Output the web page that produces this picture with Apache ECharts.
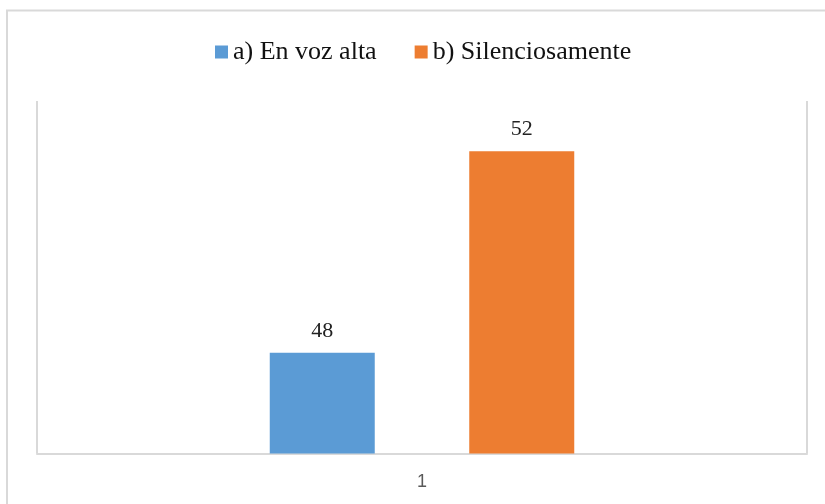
<!DOCTYPE html>
<html>
<head>
<meta charset="utf-8">
<script src="https://cdn.jsdelivr.net/npm/echarts@6/dist/echarts.min.js"></script>
<style>
  html, body { margin: 0; padding: 0; background: #fff; }
  #chart { width: 825px; height: 504px; }
</style>
</head>
<body>
<div id="chart"></div>
<script>
const categories = ['1']
const seriesNames = ['a) En voz alta', 'b) Silenciosamente']
const vozAlta = [48]
const silenciosamente = [52]

const chart = echarts.init(document.getElementById('chart'))

const labelStyle = {
  show: true,
  position: 'top',
  distance: 11,
  color: '#222',
  fontFamily: 'Liberation Serif',
  fontSize: 22
}

const option = {
  animation: false,
  graphic: [{
    type: 'rect',
    shape: { x: 7, y: 10.5, width: 900, height: 600 },
    style: { fill: 'none', stroke: '#d9d9d9', lineWidth: 2 },
    silent: true
  }],
  legend: {
    data: seriesNames,
    left: 210,
    top: 34,
    icon: 'rect',
    itemWidth: 13,
    itemHeight: 13,
    itemGap: 38,
    textStyle: {
      color: '#111',
      fontFamily: 'Liberation Serif',
      fontSize: 26
    }
  },
  grid: {
    left: 37,
    right: 18,
    top: 101,
    bottom: 50.5
  },
  xAxis: {
    type: 'category',
    data: categories,
    axisLine: { lineStyle: { color: '#d9d9d9', width: 2 } },
    axisTick: { show: false },
    splitLine: { show: true, lineStyle: { color: '#d9d9d9', width: 2 } },
    axisLabel: {
      color: '#595959',
      fontFamily: 'Liberation Sans',
      fontSize: 18,
      margin: 20
    }
  },
  yAxis: {
    type: 'value',
    min: 46,
    max: 53,
    show: false
  },
  series: [
    {
      name: seriesNames[0],
      type: 'bar',
      data: vozAlta,
      barWidth: 105,
      barGap: '90%',
      itemStyle: { color: '#5b9bd5' },
      label: labelStyle
    },
    {
      name: seriesNames[1],
      type: 'bar',
      data: silenciosamente,
      barWidth: 105,
      barGap: '90%',
      itemStyle: { color: '#ed7d31' },
      label: labelStyle
    }
  ]
}

chart.setOption(option)
</script>
</body>
</html>
